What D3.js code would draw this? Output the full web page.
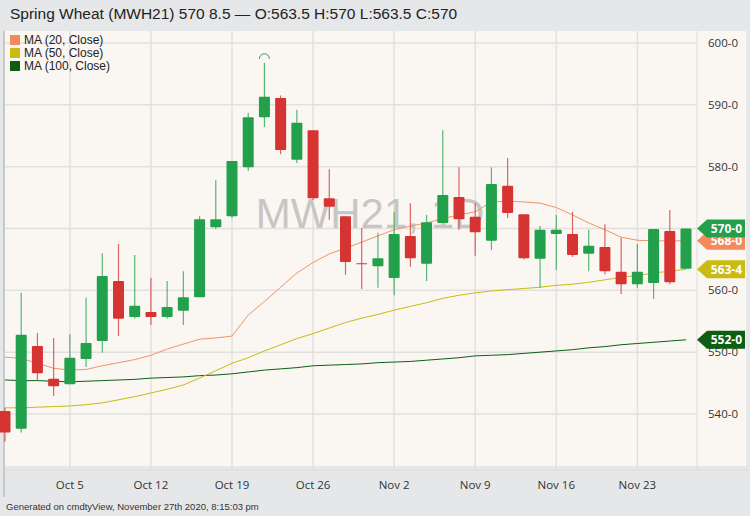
<!DOCTYPE html>
<html><head><meta charset="utf-8">
<script src="https://cdn.jsdelivr.net/npm/d3@7"></script>
<style>body{margin:0;background:#fff}svg{font-family:"Open Sans",sans-serif}.ar{font-family:"Liberation Sans",Arial,sans-serif}</style>
</head><body><svg width="750" height="516"></svg>
<script>
const dates = ['Sep 29','Sep 30','Oct 1','Oct 2','Oct 5','Oct 6','Oct 7','Oct 8','Oct 9','Oct 12','Oct 13','Oct 14','Oct 15','Oct 16','Oct 19','Oct 20','Oct 21','Oct 22','Oct 23','Oct 26','Oct 27','Oct 28','Oct 29','Oct 30','Nov 2','Nov 3','Nov 4','Nov 5','Nov 6','Nov 9','Nov 10','Nov 11','Nov 12','Nov 13','Nov 16','Nov 17','Nov 18','Nov 19','Nov 20','Nov 23','Nov 24','Nov 25','Nov 27']
const open  = [540.5,537.6,551.0,545.7,544.8,548.9,551.8,561.5,555.7,556.5,555.7,556.7,558.9,570.2,572.0,579.9,588.0,591.1,581.1,585.9,574.9,572.0,564.4,563.9,562.0,568.8,564.3,570.9,575.1,571.9,568.0,576.9,572.3,565.1,569.1,569.1,565.9,567.0,563.0,561.0,561.2,569.6,563.5]
const high  = [541.0,559.6,553.1,552.3,552.9,558.8,566.0,567.5,565.7,562.0,561.5,563.1,572.0,577.8,580.9,588.7,596.8,591.5,589.2,585.9,579.6,572.0,570.1,569.3,572.7,574.1,572.2,585.9,579.9,574.1,579.9,581.4,572.3,570.4,572.2,572.7,569.8,570.7,568.5,567.5,569.9,573.0,570.0]
const low   = [535.5,537.0,545.5,542.9,544.8,547.6,549.9,552.6,555.4,554.4,555.4,554.4,558.9,569.9,571.7,579.3,586.4,582.0,580.6,574.6,571.4,562.5,560.2,560.4,559.2,563.8,561.5,570.9,569.8,565.6,566.5,571.7,565.0,560.4,563.3,565.4,563.1,562.6,559.4,560.4,558.6,561.0,563.5]
const close = [537.0,552.8,546.6,544.5,549.1,551.5,562.3,555.4,557.5,555.7,557.3,558.9,571.5,571.5,580.9,588.0,591.3,582.7,587.1,574.9,573.5,564.6,564.2,565.2,569.1,565.2,571.0,575.4,571.5,569.4,577.2,572.5,565.2,569.8,569.8,565.7,567.2,563.1,561.0,563.0,569.9,561.3,570.0]
const ma20  = [549.2,549.0,548.2,547.4,547.1,547.2,547.8,548.3,548.8,549.5,550.5,551.3,552.1,552.3,552.6,556.0,558.2,560.5,562.8,564.5,565.9,566.8,567.8,568.8,569.8,570.4,570.9,571.6,572.2,572.7,574.3,574.4,574.3,574.1,573.4,572.2,570.9,569.8,568.6,568.1,568.0,568.0,568.0]
const ma50  = [541.0,541.0,541.1,541.2,541.3,541.5,541.8,542.3,542.8,543.4,544.0,544.7,545.8,547.0,548.2,549.1,550.2,551.2,552.2,553.0,553.9,554.8,555.5,556.1,556.8,557.4,558.0,558.7,559.2,559.6,559.9,560.1,560.3,560.5,560.8,561.0,561.3,561.7,562.1,562.4,562.8,563.1,563.4]
const ma100 = [545.5,545.4,545.4,545.3,545.2,545.3,545.4,545.5,545.6,545.8,545.9,546.0,546.2,546.3,546.5,546.8,547.1,547.3,547.5,547.8,547.9,548.0,548.1,548.3,548.4,548.5,548.7,548.9,549.1,549.4,549.5,549.6,549.8,550.0,550.2,550.4,550.7,550.9,551.2,551.4,551.6,551.8,552.0]
const yTicks = [540,550,560,570,580,590,600]
const xTickLabels = ['Oct 5','Oct 12','Oct 19','Oct 26','Nov 2','Nov 9','Nov 16','Nov 23']

const svg = d3.select('svg')
const W = 750, H = 516, plotR = 697, plotT = 31, plotB = 470
const x = d3.scalePoint().domain(dates).range([5, 686])
const y = d3.scaleLinear().domain([540, 600]).range([414, 43])
const fmt = v => Math.floor(v) + '-' + Math.round((v % 1) * 8)
const green = '#22a04b', red = '#d63333'

// backgrounds
svg.append('rect').attr('width', W).attr('height', H).attr('fill', '#e6e7e9')
svg.append('rect').attr('x', 4).attr('y', plotT).attr('width', W - 8).attr('height', 466 - plotT).attr('fill', '#faf7f2')
svg.append('line').attr('x1', 4).attr('x2', 4).attr('y1', plotT).attr('y2', 497).attr('stroke', '#b9bcc2').attr('stroke-width', 1.5)
svg.append('line').attr('x1', plotR).attr('x2', plotR).attr('y1', plotT).attr('y2', plotB).attr('stroke', '#ddd')
svg.append('line').attr('x1', 4).attr('x2', W).attr('y1', plotB).attr('y2', plotB).attr('stroke', '#ddd')

// grid
svg.append('g').selectAll('line').data(yTicks).join('line')
  .attr('x1', 5).attr('x2', plotR).attr('y1', d => y(d)).attr('y2', d => y(d))
  .attr('stroke', '#e2e0de').attr('stroke-width', 1.5)
svg.append('g').selectAll('line').data(xTickLabels).join('line')
  .attr('x1', d => x(d)).attr('x2', d => x(d)).attr('y1', plotT).attr('y2', plotB)
  .attr('stroke', '#e2e0de').attr('stroke-width', 1.5)

// watermark
svg.append('text').attr('class', 'ar').attr('x', 370).attr('y', 228).attr('text-anchor', 'middle')
  .attr('font-size', 42).attr('fill', '#c8c6c4').text('MWH21, 1D')

// axes labels
svg.append('g').selectAll('text').data(yTicks).join('text')
  .attr('x', 708).attr('y', d => y(d) + 4).attr('font-size', 11.5).attr('fill', '#333').text(d => d + '-0')
svg.append('g').selectAll('text').data(xTickLabels).join('text')
  .attr('x', d => x(d)).attr('y', 489).attr('text-anchor', 'middle').attr('font-size', 11.5).attr('fill', '#333').text(d => d)

// MAs
const line = arr => d3.line().x((d, i) => x(dates[i])).y(d => y(d))(arr)
svg.append('path').attr('d', line(ma100)).attr('fill', 'none').attr('stroke', '#0d5e12').attr('stroke-width', 1)
svg.append('path').attr('d', line(ma50)).attr('fill', 'none').attr('stroke', '#c9bb12').attr('stroke-width', 1)
svg.append('path').attr('d', line(ma20)).attr('fill', 'none').attr('stroke', '#f0946a').attr('stroke-width', 1)

// candles
const g = svg.append('g')
dates.forEach((d, i) => {
  const up = close[i] >= open[i], c = up ? green : red
  g.append('line').attr('x1', x(d)).attr('x2', x(d)).attr('y1', y(high[i])).attr('y2', y(low[i]))
    .attr('stroke', c).attr('stroke-width', 1.2).attr('opacity', 0.75)
  const t = y(Math.max(open[i], close[i])), b = y(Math.min(open[i], close[i]))
  g.append('rect').attr('x', x(d) - 5.5).attr('width', 11).attr('y', t).attr('height', Math.max(b - t, 1.2))
    .attr('rx', 1).attr('fill', c)
})
// high marker
svg.append('path').attr('d', `M${x('Oct 21') - 5},${y(596.8) - 4} a5,5 0 0 1 10,0`)
  .attr('fill', 'none').attr('stroke', green).attr('stroke-width', 1)

// right badges
const badges = [
  {v: 552.0, c: '#0d5e12'},
  {v: 563.4, c: '#c9bb12', txt: '563-4'},
  {v: 568.0, c: '#f28a5c'},
  {v: 570.0, c: green}
]
badges.forEach(b => {
  const yy = y(b.v)
  svg.append('path').attr('d', `M697,${yy} L707,${yy - 9} L745,${yy - 9} L745,${yy + 9} L707,${yy + 9} Z`).attr('fill', b.c)
  svg.append('text').attr('x', 742).attr('y', yy + 4.5).attr('text-anchor', 'end').attr('font-size', 12)
    .attr('font-weight', 'bold').attr('fill', '#fff').text(b.txt || fmt(b.v))
})

// title
svg.append('text').attr('class', 'ar').attr('x', 10).attr('y', 19).attr('font-size', 15.5).attr('fill', '#222')
  .text('Spring Wheat (MWH21) 570 8.5 — O:563.5 H:570 L:563.5 C:570')

// legend
const leg = [['MA (20, Close)', '#f28a5c'], ['MA (50, Close)', '#c9bb12'], ['MA (100, Close)', '#0d5e12']]
leg.forEach((l, i) => {
  svg.append('rect').attr('x', 10).attr('y', 35 + i * 13).attr('width', 10).attr('height', 10).attr('fill', l[1])
  svg.append('text').attr('class', 'ar').attr('x', 24).attr('y', 44 + i * 13).attr('font-size', 12).attr('fill', '#222').text(l[0])
})

// footer
svg.append('text').attr('class', 'ar').attr('x', 6).attr('y', 510).attr('font-size', 9.5).attr('fill', '#333')
  .text('Generated on cmdtyView, November 27th 2020, 8:15:03 pm')
</script></body></html>
